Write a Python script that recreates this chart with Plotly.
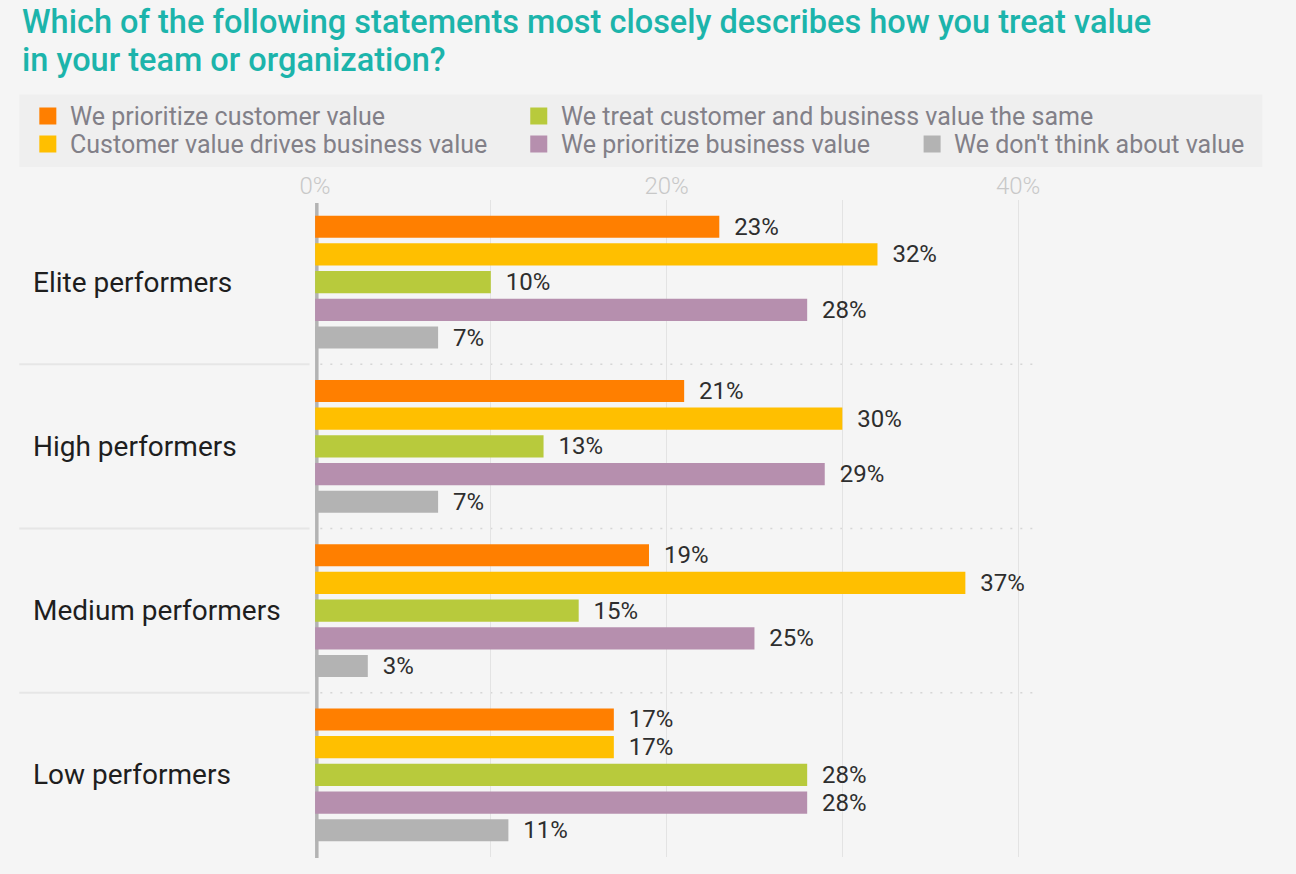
import plotly.graph_objects as go

# ---- data -------------------------------------------------------------
categories = ["Elite performers", "High performers", "Medium performers", "Low performers"]

series_names = [
    "We prioritize customer value",
    "Customer value drives business value",
    "We treat customer and business value the same",
    "We prioritize business value",
    "We don't think about value",
]
prioritize_customer = [23, 21, 19, 17]
customer_drives_business = [32, 30, 37, 17]
treat_the_same = [10, 13, 15, 28]
prioritize_business = [28, 29, 25, 28]
dont_think_about_value = [7, 7, 3, 11]

tick_values = [0, 20, 40]
tick_labels = ["0%", "20%", "40%"]

title_lines = [
    "Which of the following statements most closely describes how you treat value",
    "in your team or organization?",
]

# ---- styling ----------------------------------------------------------
W, H = 1296, 874
BG = "#f5f5f5"
FONT = "Roboto"
colors = ["#ff7f00", "#ffbf00", "#b8ca3c", "#b68fae", "#b3b3b3"]
values = [prioritize_customer, customer_drives_business, treat_the_same,
          prioritize_business, dont_think_about_value]

# page offset/scale of the figure inside the viewport
OFF_X, SCALE_X = 16.7, 0.9837


def px(xs):
    """horizontal viewport pixel -> paper fraction"""
    return (xs - OFF_X) / SCALE_X / W


def py(y):
    """vertical pixel (from top) -> paper fraction"""
    return 1 - y / H


X_MAX = 41
zero_px, pct_px = 315.5, 17.56
dom_left = px(zero_px)
dom_right = px(zero_px + X_MAX * pct_px)

fig = go.Figure()
for name, vals, col in zip(series_names, values, colors):
    fig.add_trace(go.Bar(
        name=name,
        y=categories,
        x=vals,
        orientation="h",
        marker=dict(color=col, line=dict(width=0)),
        text=vals,
        texttemplate="\u00a0\u00a0%{x}%",
        textposition="outside",
        constraintext="none",
        cliponaxis=False,
        textfont=dict(family=FONT, size=24, color="#2e2e2e"),
        showlegend=False,
        hoverinfo="skip",
    ))

shapes = []
# legend panel
shapes.append(dict(type="rect", xref="paper", yref="paper", x0=px(20), x1=px(1262),
                   y0=py(167), y1=py(94.5), fillcolor="#efefef", line=dict(width=0), layer="below"))
# separators between performer groups
for k in range(len(categories) - 1):
    yb = k + 0.5
    shapes.append(dict(type="line", xref="paper", yref="y", x0=px(20), x1=px(310), y0=yb, y1=yb,
                       line=dict(color="#e6e6e6", width=2), layer="below"))
    shapes.append(dict(type="line", xref="x", yref="y", x0=0.3, x1=X_MAX, y0=yb, y1=yb,
                       line=dict(color="#d6d6d6", width=1.5, dash="2px,8px"), layer="below"))
# thick baseline at 0%
shapes.append(dict(type="line", xref="x", yref="paper", x0=0, x1=0, y0=py(858), y1=py(203),
                   line=dict(color="#b3b3b3", width=7), layer="between"))

annotations = []
# title
for i, line in enumerate(title_lines):
    annotations.append(dict(text=line, xref="paper", yref="paper", x=px(21), y=py(22 + 38 * i),
                            xanchor="left", yanchor="middle", showarrow=False,
                            font=dict(family=FONT, size=32.5, color="#1cb4ab", weight=500)))
# legend entries (column-major layout): marker centre x, row centre y, text x
legend_slots = [(48.5, 116, 68.5), (48.5, 144, 68.5), (539, 116, 559),
                (539, 144, 559), (932, 144, 952)]
for idx, (mx, my, tx) in enumerate(legend_slots):
    shapes.append(dict(type="rect", xref="paper", yref="paper",
                       x0=px(mx - 8.5), x1=px(mx + 8.5), y0=py(my + 8.5), y1=py(my - 8.5),
                       fillcolor=colors[idx], line=dict(width=0)))
    annotations.append(dict(text=series_names[idx], xref="paper", yref="paper",
                            x=px(tx), y=py(my), xanchor="left", yanchor="middle",
                            showarrow=False,
                            font=dict(family=FONT, size=25, color="#828088")))
# group labels on the left
for c in categories:
    annotations.append(dict(text=c, xref="paper", yref="y", x=px(32), y=c,
                            xanchor="left", yanchor="middle", showarrow=False,
                            font=dict(family=FONT, size=28, color="#1e1e1e")))

fig.update_layout(
    width=W, height=H, autosize=False,
    margin=dict(l=0, r=0, t=0, b=0),
    paper_bgcolor=BG, plot_bgcolor=BG,
    barmode="group", bargap=0.157, bargroupgap=0.2,
    shapes=shapes, annotations=annotations,
    xaxis=dict(
        domain=[dom_left, dom_right], range=[0, X_MAX], side="top",
        tickvals=tick_values, ticktext=tick_labels, ticks="",
        tickfont=dict(family=FONT, size=24, color="#c8c8c8", weight=300),
        showgrid=True, gridcolor="#e3e3e3", gridwidth=1,
        minor=dict(dtick=10, showgrid=True, gridcolor="#e3e3e3", gridwidth=1),
        zeroline=False, showline=False, fixedrange=True,
    ),
    yaxis=dict(
        domain=[py(857), py(200)], range=[3.5, -0.5],
        categoryorder="array", categoryarray=categories,
        showticklabels=False, ticks="", showgrid=False, zeroline=False,
        showline=False, fixedrange=True,
    ),
)

fig.write_html("out.html", config=dict(displayModeBar=False))
